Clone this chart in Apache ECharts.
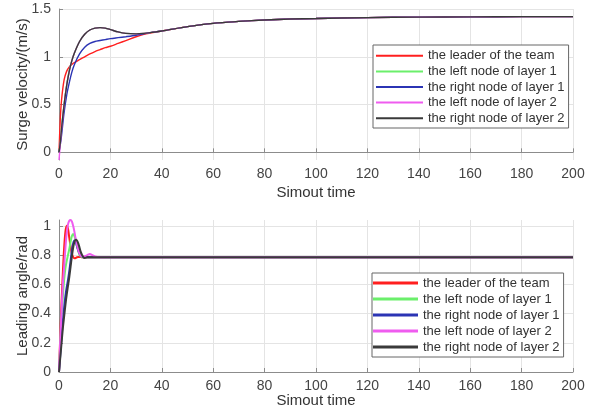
<!DOCTYPE html>
<html><head><meta charset="utf-8">
<script src="https://cdn.jsdelivr.net/npm/echarts@6/dist/echarts.min.js"></script>
<style>html,body{margin:0;padding:0;background:#fff}#c{width:601px;height:412px}</style>
</head><body><div id="c"></div>
<script>
const seriesNames = ['the leader of the team','the left node of layer 1','the right node of layer 1','the left node of layer 2','the right node of layer 2'];
const seriesColors = ['#ff1f1f','#6bef6b','#2b34b4','#ef5cef','#3a3a3a'];

// Upper panel: surge velocity (m/s) vs simout time
const timeTop = [0,0.5,1,2,3,4,5,6,8,10,12,14,16,18,20,23,26,30,33,36,40,50,60,70,80,90,100,120,140,160,180,200];
const leaderVel = [0,0.35,0.55,0.76,0.85,0.895,0.92,0.94,0.97,1.0,1.03,1.055,1.075,1.095,1.11,1.14,1.17,1.21,1.235,1.25,1.27,1.315,1.35,1.37,1.385,1.395,1.40,1.41,1.415,1.418,1.42,1.42];
const left1Vel  = [0,0.1,0.26,0.51,0.71,0.86,0.96,1.04,1.16,1.235,1.28,1.3,1.305,1.3,1.285,1.26,1.245,1.24,1.245,1.255,1.27,1.315,1.35,1.37,1.385,1.395,1.40,1.41,1.415,1.418,1.42,1.42];
const right1Vel = [0,0.08,0.18,0.42,0.6,0.73,0.84,0.92,1.03,1.1,1.14,1.16,1.17,1.18,1.19,1.2,1.21,1.225,1.24,1.255,1.27,1.315,1.35,1.37,1.385,1.395,1.40,1.41,1.415,1.418,1.42,1.42];
const left2Vel  = [-0.08,0.08,0.24,0.5,0.7,0.85,0.96,1.04,1.16,1.235,1.28,1.3,1.305,1.3,1.285,1.26,1.245,1.24,1.245,1.255,1.27,1.315,1.35,1.37,1.385,1.395,1.40,1.41,1.415,1.418,1.42,1.42];
const right2Vel = [0,0.1,0.25,0.5,0.7,0.85,0.96,1.04,1.16,1.235,1.28,1.3,1.305,1.3,1.285,1.26,1.245,1.24,1.245,1.255,1.27,1.315,1.35,1.37,1.385,1.395,1.40,1.41,1.415,1.418,1.42,1.42];

// Lower panel: leading angle (rad) vs simout time
const timeBottom = [0,0.5,1,1.5,2,2.5,3,3.5,4,4.5,5,5.5,6,6.5,7,7.5,8,8.5,9,9.5,10,11,12,13,14,16,20,200];
const leaderAng = [0,0.25,0.48,0.68,0.85,0.96,1.0,0.98,0.92,0.86,0.81,0.787,0.778,0.78,0.785,0.786,0.786,0.786,0.785,0.785,0.785,0.785,0.785,0.785,0.785,0.785,0.785,0.785];
const left1Ang  = [0,0.2,0.38,0.52,0.63,0.71,0.76,0.80,0.84,0.89,0.93,0.945,0.93,0.9,0.86,0.83,0.80,0.79,0.785,0.785,0.785,0.785,0.785,0.785,0.785,0.785,0.785,0.785];
const right1Ang = [0,0.12,0.24,0.35,0.44,0.52,0.58,0.63,0.69,0.76,0.83,0.88,0.9,0.89,0.86,0.83,0.81,0.795,0.79,0.785,0.785,0.785,0.785,0.785,0.785,0.785,0.785,0.785];
const left2Ang  = [0,0.22,0.42,0.6,0.72,0.85,0.95,1.01,1.035,1.04,1.03,1.0,0.96,0.91,0.87,0.835,0.81,0.795,0.79,0.79,0.792,0.80,0.807,0.80,0.79,0.785,0.785,0.785];
const right2Ang = [0,0.1,0.2,0.3,0.38,0.46,0.53,0.59,0.65,0.72,0.79,0.85,0.89,0.905,0.9,0.88,0.85,0.82,0.80,0.785,0.78,0.785,0.785,0.785,0.785,0.785,0.785,0.785];

const velTicks = [0,0.5,1,1.5];
const angleTicks = [0,0.2,0.4,0.6,0.8,1];
const timeMax = 200, timeStep = 20;

const topSets = [leaderVel,left1Vel,right1Vel,left2Vel,right2Vel];
const botSets = [leaderAng,left1Ang,right1Ang,left2Ang,right2Ang];

const font = 'Liberation Sans, Arial, sans-serif';
const axisGray = '#8c8c8c';
const gridGray = '#e4e4e4';

function xAxis(gi, gap){
  return {type:'value', gridIndex:gi, min:0, max:timeMax, interval:timeStep,
    name:'Simout time', nameLocation:'middle', nameGap:gap, nameMoveOverlap:false,
    nameTextStyle:{fontFamily:font, fontSize:15, color:'#333'},
    axisLine:{lineStyle:{color:axisGray}}, axisTick:{inside:true, length:4, lineStyle:{color:axisGray}},
    axisLabel:{fontFamily:font, fontSize:14, color:'#444', margin:7},
    splitLine:{show:true, lineStyle:{color:gridGray}}};
}
function yAxis(gi, name, min, max, ticks, gap){
  return {type:'value', gridIndex:gi, min:min, max:max, name:name, nameLocation:'middle', nameGap:gap,
    nameMoveOverlap:false,
    nameTextStyle:{fontFamily:font, fontSize:15, color:'#333'},
    axisLine:{show:true, lineStyle:{color:axisGray}},
    axisTick:{show:true, inside:true, length:4, lineStyle:{color:axisGray}, customValues:ticks},
    axisLabel:{fontFamily:font, fontSize:14, color:'#444', margin:8, customValues:ticks},
    splitLine:{show:true, lineStyle:{color:gridGray}}};
}

const series = [];
topSets.forEach((arr,i)=>series.push({name:seriesNames[i], type:'line', xAxisIndex:0, yAxisIndex:0,
  data: timeTop.map((t,k)=>[t,arr[k]]), showSymbol:false, smooth:0.3, color:seriesColors[i],
  lineStyle:{width:1.4, color:seriesColors[i]}}));
botSets.forEach((arr,i)=>series.push({name:seriesNames[i], type:'line', xAxisIndex:1, yAxisIndex:1,
  data: timeBottom.map((t,k)=>[t,arr[k]]), showSymbol:false, smooth:0.3, color:seriesColors[i],
  lineStyle:{width:2, color:seriesColors[i]}}));

function legend(left, top, w, h, lh, pad){
  return {orient:'vertical', left:left, top:top, icon:'rect', itemWidth:w, itemHeight:h, itemGap:0,
    padding:pad, borderColor:'#666', borderWidth:1, backgroundColor:'#fff',
    textStyle:{fontFamily:font, fontSize:13, color:'#333', lineHeight:lh},
    data: seriesNames, selectedMode:false};
}

const chart = echarts.init(document.getElementById('c'), null, {renderer:'canvas'});
chart.setOption({
  animation:false,
  backgroundColor:'#fff',
  grid:[{left:59, right:28, top:9, height:151}, {left:59, right:28, top:220, height:152}],
  xAxis:[xAxis(0,25), xAxis(1,21)],
  yAxis:[yAxis(0,'Surge velocity/(m/s)',-0.08,1.5,velTicks,29), yAxis(1,'Leading angle/rad',0,1.04,angleTicks,29)],
  legend:[legend(373,45,47,2,15.6,[3,4,2,3]), legend(372,273,45,3,16,[2,4,2,1])],
  series:series
});
</script></body></html>
